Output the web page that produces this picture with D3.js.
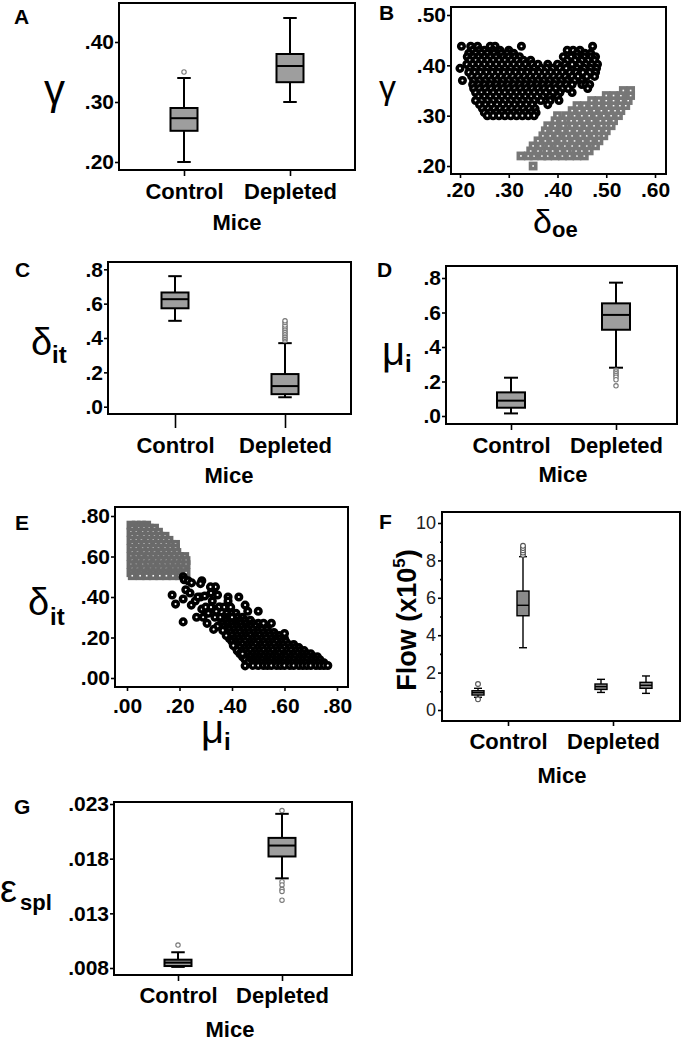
<!DOCTYPE html>
<html>
<head>
<meta charset="utf-8">
<script src="https://cdn.jsdelivr.net/npm/d3@7"></script>
<style>
  body { margin: 0; background: #fff; }
  svg { display: block; }
</style>
</head>
<body>
<svg id="fig" width="686" height="1041"></svg>
<script>
// ---------------- data ----------------
const mice = ["Control", "Depleted"];

// box plots: lo / hi = whisker ends, out = outliers
const gammaBox = [
    { lo: 0.20, q1: 0.252, med: 0.273, q3: 0.29, hi: 0.34, out: [0.35] },
    { lo: 0.30, q1: 0.333, med: 0.36, q3: 0.38, hi: 0.44, out: [] }
];
const deltaItBox = [
    { lo: 0.50, q1: 0.573, med: 0.626, q3: 0.665, hi: 0.76, out: [] },
    { lo: 0.055, q1: 0.073, med: 0.12, q3: 0.19, hi: 0.37,
      out: [0.385, 0.395, 0.405, 0.415, 0.425, 0.435, 0.445, 0.455, 0.465, 0.475, 0.49, 0.50] }
];
const muBox = [
    { lo: 0.015, q1: 0.048, med: 0.089, q3: 0.137, hi: 0.222, out: [] },
    { lo: 0.28, q1: 0.50, med: 0.586, q3: 0.653, hi: 0.773,
      out: [0.265, 0.255, 0.245, 0.235, 0.225, 0.21, 0.175] }
];
const epsBox = [
    { lo: 0.0081, q1: 0.00818, med: 0.00849, q3: 0.00876, hi: 0.00944, out: [0.0101] },
    { lo: 0.0162, q1: 0.0182, med: 0.0192, q3: 0.0199, hi: 0.0221,
      out: [0.0224, 0.0159, 0.0156, 0.0152, 0.0150, 0.0142] }
];
// flow (x10^5): two boxes per group
const flowGroup = ["Control", "Control", "Depleted", "Depleted"];
const flowBox = [
    { lo: 0.68, q1: 0.80, med: 0.93, q3: 1.03, hi: 1.16, out: [1.39, 0.57] },
    { lo: 3.33, q1: 5.04, med: 5.6, q3: 6.36, hi: 8.2, out: [8.3, 8.42, 8.54, 8.66, 8.78] },
    { lo: 0.94, q1: 1.10, med: 1.25, q3: 1.39, hi: 1.64, out: [] },
    { lo: 0.89, q1: 1.16, med: 1.32, q3: 1.48, hi: 1.82, out: [] }
];

// tick values
const gammaTicks = [0.20, 0.30, 0.40];
const gammaTicksB = [0.20, 0.30, 0.40, 0.50];
const deltaOeTicks = [0.20, 0.30, 0.40, 0.50, 0.60];
const fracTicks = [0, 0.2, 0.4, 0.6, 0.8];
const flowTicks = [0, 2, 4, 6, 8, 10];
const flowMinor = [1, 3, 5, 7, 9];
const epsTicks = [0.008, 0.013, 0.018, 0.023];

// panel B scatter: rows of [gamma, delta_oe values]
const bDepletedRows = [
    [0.438, [0.203, 0.222, 0.236, 0.262, 0.272, 0.326, 0.472]],
    [0.430, [0.226, 0.24, 0.25, 0.268, 0.282, 0.30, 0.42, 0.432, 0.446]],
    [0.424, [0.218, 0.232, 0.244, 0.256, 0.27, 0.285, 0.297, 0.31, 0.44, 0.456, 0.468]],
    [0.417, [0.215, 0.227, 0.238, 0.25, 0.262, 0.274, 0.288, 0.30, 0.312, 0.322, 0.412, 0.428, 0.44, 0.455, 0.468, 0.478]],
    [0.410, [0.22, 0.232, 0.244, 0.256, 0.268, 0.28, 0.292, 0.305, 0.317, 0.33, 0.345, 0.42, 0.436, 0.45, 0.463, 0.476]],
    [0.402, [0.214, 0.226, 0.238, 0.25, 0.262, 0.274, 0.286, 0.298, 0.31, 0.322, 0.334, 0.348, 0.36, 0.38, 0.40, 0.415, 0.43, 0.445, 0.458, 0.47, 0.482]],
    [0.394, [0.20, 0.22, 0.232, 0.244, 0.256, 0.268, 0.28, 0.292, 0.304, 0.316, 0.328, 0.34, 0.352, 0.366, 0.378, 0.39, 0.405, 0.418, 0.44, 0.455, 0.468, 0.48]],
    [0.386, [0.218, 0.23, 0.242, 0.254, 0.266, 0.278, 0.29, 0.302, 0.314, 0.326, 0.338, 0.35, 0.362, 0.374, 0.386, 0.398, 0.41, 0.425, 0.438, 0.452, 0.466, 0.478]],
    [0.378, [0.224, 0.236, 0.248, 0.26, 0.272, 0.284, 0.296, 0.308, 0.32, 0.332, 0.344, 0.356, 0.368, 0.38, 0.392, 0.404, 0.416, 0.43, 0.442, 0.46, 0.476]],
    [0.370, [0.205, 0.228, 0.24, 0.252, 0.264, 0.276, 0.288, 0.30, 0.312, 0.324, 0.336, 0.348, 0.36, 0.372, 0.384, 0.396, 0.408, 0.42, 0.435, 0.45]],
    [0.362, [0.226, 0.238, 0.25, 0.262, 0.274, 0.286, 0.298, 0.31, 0.322, 0.334, 0.346, 0.358, 0.37, 0.382, 0.394, 0.406, 0.418, 0.43, 0.45, 0.458, 0.466]],
    [0.354, [0.228, 0.24, 0.252, 0.264, 0.276, 0.288, 0.30, 0.312, 0.324, 0.336, 0.348, 0.36, 0.372, 0.384, 0.396, 0.41, 0.422, 0.462]],
    [0.346, [0.232, 0.244, 0.256, 0.268, 0.28, 0.292, 0.304, 0.316, 0.328, 0.34, 0.352, 0.364, 0.376, 0.39, 0.405, 0.43]],
    [0.338, [0.238, 0.25, 0.262, 0.274, 0.286, 0.298, 0.31, 0.322, 0.334, 0.346, 0.358, 0.37, 0.384, 0.40]],
    [0.330, [0.232, 0.244, 0.256, 0.268, 0.28, 0.292, 0.304, 0.316, 0.328, 0.34, 0.352, 0.366, 0.385, 0.403]],
    [0.322, [0.24, 0.252, 0.264, 0.276, 0.288, 0.30, 0.312, 0.324, 0.336, 0.348, 0.38]],
    [0.314, [0.246, 0.258, 0.27, 0.282, 0.294, 0.306, 0.318, 0.33, 0.342, 0.354]],
    [0.306, [0.25, 0.262, 0.274, 0.286, 0.298, 0.31, 0.322, 0.334, 0.346, 0.356]],
    [0.300, [0.256, 0.268, 0.28, 0.292, 0.304, 0.316, 0.328, 0.34, 0.352]]
];
const bControlRows = [
    [0.20, [0.35]],
    [0.22, [0.325, 0.34, 0.352, 0.368, 0.38, 0.395, 0.41, 0.425, 0.44, 0.455]],
    [0.23, [0.345, 0.36, 0.378, 0.39, 0.405, 0.42, 0.438, 0.45, 0.465]],
    [0.24, [0.35, 0.365, 0.382, 0.40, 0.415, 0.43, 0.445, 0.46, 0.478]],
    [0.25, [0.36, 0.375, 0.39, 0.408, 0.42, 0.435, 0.452, 0.468, 0.485]],
    [0.26, [0.37, 0.385, 0.40, 0.418, 0.43, 0.447, 0.46, 0.475, 0.495]],
    [0.27, [0.375, 0.392, 0.41, 0.425, 0.44, 0.455, 0.47, 0.485, 0.50]],
    [0.28, [0.38, 0.395, 0.412, 0.43, 0.445, 0.46, 0.475, 0.49, 0.51]],
    [0.29, [0.395, 0.41, 0.428, 0.44, 0.455, 0.47, 0.488, 0.50, 0.515]],
    [0.30, [0.40, 0.418, 0.435, 0.45, 0.465, 0.48, 0.495, 0.51, 0.525]],
    [0.31, [0.43, 0.445, 0.46, 0.475, 0.49, 0.505, 0.518, 0.53]],
    [0.32, [0.44, 0.455, 0.47, 0.485, 0.50, 0.515, 0.528, 0.54]],
    [0.33, [0.47, 0.485, 0.50, 0.515, 0.53, 0.545]],
    [0.34, [0.50, 0.515, 0.53, 0.545, 0.55]],
    [0.35, [0.535, 0.55]]
];

// panel E scatter: rows of [delta_it, mu_i values]
const eControlRows = [
    [0.755, [0.015, 0.035, 0.055, 0.075]],
    [0.74, [0.02, 0.045, 0.065, 0.085, 0.105]],
    [0.72, [0.015, 0.035, 0.06, 0.08, 0.10, 0.12]],
    [0.70, [0.02, 0.04, 0.065, 0.085, 0.105, 0.125, 0.145]],
    [0.68, [0.015, 0.035, 0.055, 0.08, 0.10, 0.12, 0.14, 0.16]],
    [0.66, [0.02, 0.045, 0.065, 0.085, 0.11, 0.13, 0.15, 0.17, 0.185]],
    [0.64, [0.015, 0.035, 0.06, 0.08, 0.10, 0.12, 0.145, 0.165, 0.185]],
    [0.62, [0.02, 0.04, 0.065, 0.085, 0.105, 0.13, 0.15, 0.17, 0.19]],
    [0.60, [0.015, 0.035, 0.055, 0.08, 0.10, 0.12, 0.14, 0.16, 0.18, 0.20, 0.22]],
    [0.58, [0.02, 0.045, 0.065, 0.085, 0.11, 0.13, 0.15, 0.17, 0.19, 0.21, 0.225]],
    [0.56, [0.015, 0.035, 0.06, 0.08, 0.10, 0.125, 0.145, 0.165, 0.185, 0.205, 0.225]],
    [0.54, [0.02, 0.04, 0.065, 0.09, 0.11, 0.13, 0.15, 0.175, 0.195, 0.215]],
    [0.52, [0.015, 0.035, 0.055, 0.08, 0.10, 0.12, 0.145, 0.165, 0.185, 0.205, 0.225]],
    [0.505, [0.02, 0.05, 0.075, 0.10, 0.125, 0.15, 0.175, 0.20]]
];
const eDepletedRows = [
    [0.32, [0.38, 0.40, 0.415]],
    [0.30, [0.37, 0.385, 0.40, 0.42, 0.44]],
    [0.285, [0.36, 0.38, 0.395, 0.41, 0.43, 0.45, 0.47]],
    [0.27, [0.365, 0.385, 0.40, 0.42, 0.435, 0.455, 0.48, 0.50]],
    [0.255, [0.37, 0.39, 0.405, 0.42, 0.44, 0.46, 0.475, 0.49, 0.51]],
    [0.24, [0.375, 0.39, 0.41, 0.425, 0.445, 0.46, 0.48, 0.50, 0.515, 0.535]],
    [0.225, [0.38, 0.395, 0.415, 0.43, 0.45, 0.465, 0.485, 0.50, 0.52, 0.54, 0.56]],
    [0.21, [0.385, 0.40, 0.42, 0.44, 0.455, 0.47, 0.49, 0.505, 0.525, 0.545, 0.565, 0.58]],
    [0.195, [0.39, 0.41, 0.425, 0.445, 0.46, 0.48, 0.495, 0.515, 0.53, 0.55, 0.57, 0.585, 0.60]],
    [0.18, [0.40, 0.415, 0.43, 0.45, 0.47, 0.485, 0.50, 0.52, 0.54, 0.555, 0.57, 0.59, 0.605]],
    [0.165, [0.41, 0.425, 0.44, 0.46, 0.475, 0.49, 0.51, 0.525, 0.545, 0.56, 0.58, 0.595, 0.615, 0.635]],
    [0.15, [0.415, 0.43, 0.45, 0.465, 0.48, 0.50, 0.515, 0.535, 0.55, 0.57, 0.585, 0.60, 0.62, 0.64, 0.655]],
    [0.135, [0.42, 0.44, 0.455, 0.47, 0.49, 0.505, 0.52, 0.54, 0.555, 0.575, 0.59, 0.61, 0.625, 0.645, 0.66, 0.675]],
    [0.12, [0.43, 0.445, 0.46, 0.48, 0.495, 0.51, 0.53, 0.545, 0.565, 0.58, 0.60, 0.615, 0.635, 0.65, 0.67, 0.685, 0.70]],
    [0.105, [0.44, 0.455, 0.47, 0.49, 0.505, 0.52, 0.54, 0.555, 0.57, 0.59, 0.605, 0.625, 0.64, 0.66, 0.675, 0.69, 0.71, 0.725]],
    [0.09, [0.45, 0.47, 0.485, 0.50, 0.515, 0.535, 0.55, 0.57, 0.585, 0.60, 0.62, 0.635, 0.655, 0.67, 0.685, 0.705, 0.72, 0.735]],
    [0.075, [0.46, 0.48, 0.50, 0.515, 0.53, 0.545, 0.565, 0.58, 0.595, 0.615, 0.63, 0.65, 0.665, 0.68, 0.70, 0.715, 0.73, 0.75]],
    [0.062, [0.48, 0.50, 0.52, 0.535, 0.55, 0.57, 0.585, 0.60, 0.62, 0.635, 0.655, 0.67, 0.685, 0.70, 0.72, 0.735, 0.75, 0.765]]
];
// scattered depleted points above the dense band: [mu_i, delta_it]
const eDepletedSparse = [
    [0.214, 0.50], [0.218, 0.485], [0.233, 0.48], [0.246, 0.47], [0.285, 0.48], [0.28, 0.466],
    [0.172, 0.41], [0.185, 0.365], [0.214, 0.277], [0.224, 0.436], [0.24, 0.42], [0.245, 0.36],
    [0.214, 0.39], [0.28, 0.40], [0.296, 0.405], [0.33, 0.436], [0.337, 0.45], [0.345, 0.41],
    [0.355, 0.35], [0.29, 0.30], [0.305, 0.27], [0.345, 0.255], [0.355, 0.30], [0.37, 0.35],
    [0.395, 0.35], [0.426, 0.40], [0.40, 0.30], [0.45, 0.36], [0.46, 0.33], [0.50, 0.33],
    [0.52, 0.27], [0.55, 0.27], [0.60, 0.22], [0.405, 0.16], [0.378, 0.21], [0.365, 0.235],
    [0.44, 0.12], [0.45, 0.06], [0.26, 0.38], [0.27, 0.40], [0.265, 0.30], [0.285, 0.34],
    [0.30, 0.35], [0.318, 0.45], [0.32, 0.42], [0.32, 0.35], [0.335, 0.30], [0.35, 0.35],
    [0.385, 0.40], [0.385, 0.38], [0.33, 0.24], [0.31, 0.32], [0.325, 0.38], [0.34, 0.33]
];

// ---------------- drawing ----------------
const FONT = '"Liberation Sans", Arial, Helvetica, sans-serif';
const svg = d3.select("#fig").attr("font-family", FONT);
const rowsToPoints = rows => rows.flatMap(([y, xs]) => xs.map(x => [x, y]));
const noLead = f => d => d3.format(f)(d).replace(/^0/, "");

function frame(p) {
    svg.append("rect")
        .attr("x", p.x0).attr("y", p.y0)
        .attr("width", p.x1 - p.x0).attr("height", p.y1 - p.y0)
        .attr("fill", "none").attr("stroke", "#000").attr("stroke-width", 2);
}

function styleAxis(g, size, weight, color) {
    g.select(".domain").remove();
    g.selectAll(".tick line").attr("stroke", "#000").attr("stroke-width", 1.6);
    g.selectAll(".tick text")
        .attr("font-size", size).attr("font-weight", weight)
        .attr("fill", color || "#000").attr("font-family", FONT);
}

function yAxis(p, y, ticks, fmt, opt = {}) {
    const g = svg.append("g").attr("transform", `translate(${p.x0},0)`)
        .call(d3.axisLeft(y).tickValues(ticks).tickSize(opt.size || 4).tickPadding(opt.pad || 1).tickFormat(fmt));
    styleAxis(g, opt.font || 21, opt.weight || "bold", opt.color);
    return g;
}

function catAxis(p, x, tickLen, labelOff) {
    const g = svg.append("g").attr("transform", `translate(0,${p.y1})`)
        .call(d3.axisBottom(x).tickSize(tickLen));
    styleAxis(g, 22, "bold");
    g.selectAll(".tick text").attr("y", labelOff).attr("dy", 0);
}

function label(txt, x, y, size, opt = {}) {
    return svg.append("text").attr("x", x).attr("y", y)
        .attr("font-size", size).attr("font-weight", opt.weight || "normal")
        .attr("text-anchor", opt.anchor || "start").attr("fill", "#000").text(txt);
}

function greek(main, sub, p) {
    label(main, p.x, p.y, p.size);
    label(sub, p.sx, p.sy, p.subSize, { weight: "bold" });
}

function drawBox(g, cx, s, y, w, opt = {}) {
    const sw = opt.sw || 2;
    const cap = opt.cap || w / 2;
    g.append("line").attr("x1", cx).attr("x2", cx).attr("y1", y(s.lo)).attr("y2", y(s.hi))
        .attr("stroke", "#000").attr("stroke-width", sw);
    [s.lo, s.hi].forEach(v => g.append("line")
        .attr("x1", cx - cap / 2).attr("x2", cx + cap / 2).attr("y1", y(v)).attr("y2", y(v))
        .attr("stroke", "#000").attr("stroke-width", sw));
    g.append("rect").attr("x", cx - w / 2).attr("width", w)
        .attr("y", y(s.q3)).attr("height", y(s.q1) - y(s.q3))
        .attr("fill", opt.fill || "#9e9e9e").attr("stroke", "#000").attr("stroke-width", sw);
    g.append("line").attr("x1", cx - w / 2).attr("x2", cx + w / 2).attr("y1", y(s.med)).attr("y2", y(s.med))
        .attr("stroke", "#000").attr("stroke-width", sw);
    g.selectAll(null).data(s.out).enter().append("circle")
        .attr("cx", cx).attr("cy", d => y(d)).attr("r", opt.or || 2.2)
        .attr("fill", "#fff").attr("stroke", opt.oc || "#777").attr("stroke-width", 1.1);
}

function boxPanel(p, stats, yTicks, fmt) {
    const y = d3.scaleLinear().domain(p.yd).range(p.yr);
    const x = d3.scalePoint().domain(mice).range(p.cx);
    yAxis(p, y, yTicks, fmt);
    catAxis(p, x, p.tick, p.labOff);
    const g = svg.append("g");
    stats.forEach((s, i) => drawBox(g, x(mice[i]), s, y, p.boxW));
    frame(p);
    label("Mice", p.mice[0], p.mice[1], 22, { weight: "bold", anchor: "middle" });
}

function circles(g, pts, x, y) {
    g.selectAll(null).data(pts).enter().append("circle")
        .attr("cx", d => x(d[0])).attr("cy", d => y(d[1])).attr("r", 2.8)
        .attr("fill", "#fff").attr("stroke", "#000").attr("stroke-width", 3.5);
}

function squares(g, pts, x, y, col) {
    g.selectAll(null).data(pts).enter().append("rect")
        .attr("x", d => x(d[0]) - 2.6).attr("y", d => y(d[1]) - 2.6)
        .attr("width", 5.2).attr("height", 5.2)
        .attr("fill", "#fff").attr("stroke", col).attr("stroke-width", 3.6);
}

// ---- A: gamma ----
const pA = { x0: 119, y0: 3, x1: 355, y1: 170, yd: [0.2, 0.4], yr: [162, 42], cx: [184, 290],
             boxW: 27, tick: 6, labOff: 29, mice: [237, 230] };
boxPanel(pA, gammaBox, gammaTicks, noLead(".2f"));
label("A", 14, 24, 21, { weight: "bold" });
label("γ", 44, 104, 42);

// ---- B: gamma vs delta_oe ----
const pB = { x0: 451, y0: 7, x1: 666, y1: 174 };
{
    const x = d3.scaleLinear().domain([0.2, 0.6]).range([460, 655]);
    const y = d3.scaleLinear().domain([0.2, 0.5]).range([166, 15]);
    yAxis(pB, y, gammaTicksB, noLead(".2f"));
    const gx = svg.append("g").attr("transform", `translate(0,${pB.y1})`)
        .call(d3.axisBottom(x).tickValues(deltaOeTicks).tickSize(4).tickFormat(noLead(".2f")));
    styleAxis(gx, 21, "bold");
    gx.selectAll(".tick text").attr("y", 23).attr("dy", 0);
    const g = svg.append("g");
    circles(g, rowsToPoints(bDepletedRows), x, y);
    squares(g, rowsToPoints(bControlRows), x, y, "#777");
    frame(pB);
}
label("B", 379, 20, 21, { weight: "bold" });
label("γ", 379, 99, 34);
greek("δ", "oe", { x: 533, y: 233, size: 34, sx: 552, sy: 237, subSize: 22 });

// ---- C: delta_it ----
const pC = { x0: 108, y0: 262, x1: 351, y1: 414, yd: [0, 0.8], yr: [406.7, 269.3], cx: [175, 285],
             boxW: 27, tick: 14, labOff: 39, mice: [229, 483] };
boxPanel(pC, deltaItBox, fracTicks, noLead(".1f"));
label("C", 15, 277, 21, { weight: "bold" });
greek("δ", "it", { x: 31, y: 355, size: 38, sx: 52, sy: 363, subSize: 24 });

// ---- D: mu_i ----
const pD = { x0: 446, y0: 266, x1: 677, y1: 424, yd: [0, 0.8], yr: [416, 278], cx: [511, 616],
             boxW: 28, tick: 6, labOff: 29, mice: [563, 482] };
boxPanel(pD, muBox, fracTicks, noLead(".1f"));
label("D", 377, 277, 21, { weight: "bold" });
greek("μ", "i", { x: 382, y: 365, size: 40, sx: 405, sy: 372, subSize: 24 });

// ---- E: delta_it vs mu_i ----
const pE = { x0: 115, y0: 507, x1: 348, y1: 687 };
{
    const x = d3.scaleLinear().domain([0, 0.8]).range([127, 337]);
    const y = d3.scaleLinear().domain([0, 0.8]).range([678, 516]);
    yAxis(pE, y, fracTicks, noLead(".2f"));
    const gx = svg.append("g").attr("transform", `translate(0,${pE.y1})`)
        .call(d3.axisBottom(x).tickValues(fracTicks).tickSize(4).tickFormat(noLead(".2f")));
    styleAxis(gx, 21, "bold");
    gx.selectAll(".tick text").attr("y", 26).attr("dy", 0);
    const g = svg.append("g");
    squares(g, rowsToPoints(eControlRows), x, y, "#6a6a6a");
    circles(g, rowsToPoints(eDepletedRows).concat(eDepletedSparse), x, y);
    frame(pE);
}
label("E", 15, 530, 21, { weight: "bold" });
greek("δ", "it", { x: 28, y: 615, size: 38, sx: 50, sy: 625, subSize: 24 });
greek("μ", "i", { x: 201, y: 743, size: 40, sx: 224, sy: 750, subSize: 24 });

// ---- F: flow ----
const pF = { x0: 442, y0: 512, x1: 680, y1: 721 };
{
    const y = d3.scaleLinear().domain([0, 10]).range([710, 523]);
    const x = d3.scalePoint().domain(mice).range([508, 613]);
    const boxX = [478, 523, 601, 646];   // box centres inside the two groups
    yAxis(pF, y, flowTicks, d3.format("d"), { font: 18, weight: "normal", color: "#222", size: 4, pad: 2 });
    const gm = svg.append("g").attr("transform", `translate(${pF.x0},0)`)
        .call(d3.axisLeft(y).tickValues(flowMinor).tickSize(2).tickFormat(""));
    styleAxis(gm, 10, "normal");
    catAxis(pF, x, 5, 28);
    const g = svg.append("g");
    flowBox.forEach((s, i) => drawBox(g, boxX[i], s, y, 12, { sw: 1.4, cap: 8, fill: "#8a8a8a", or: 2.4, oc: "#555" }));
    frame(pF);
    svg.append("text").attr("transform", "translate(416,620) rotate(-90)")
        .attr("text-anchor", "middle").attr("font-size", 27).attr("font-weight", "bold")
        .text("Flow (x10")
        .append("tspan").attr("font-size", 17).attr("dy", -11).text("5")
        .select(function () { return this.parentNode; })
        .append("tspan").attr("dy", 11).text(")");
    label("Mice", 562, 783, 22, { weight: "bold", anchor: "middle" });
}
label("F", 379, 529, 21, { weight: "bold" });

// ---- G: eps_spl ----
const pG = { x0: 114, y0: 802, x1: 352, y1: 975, yd: [0.008, 0.023], yr: [968, 804], cx: [178, 282],
             boxW: 27, tick: 6, labOff: 28, mice: [230, 1037] };
boxPanel(pG, epsBox, epsTicks, noLead(".3f"));
label("G", 14, 814, 21, { weight: "bold" });
greek("ε", "spl", { x: 0, y: 902, size: 38, sx: 20, sy: 910, subSize: 22 });
</script>
</body>
</html>
